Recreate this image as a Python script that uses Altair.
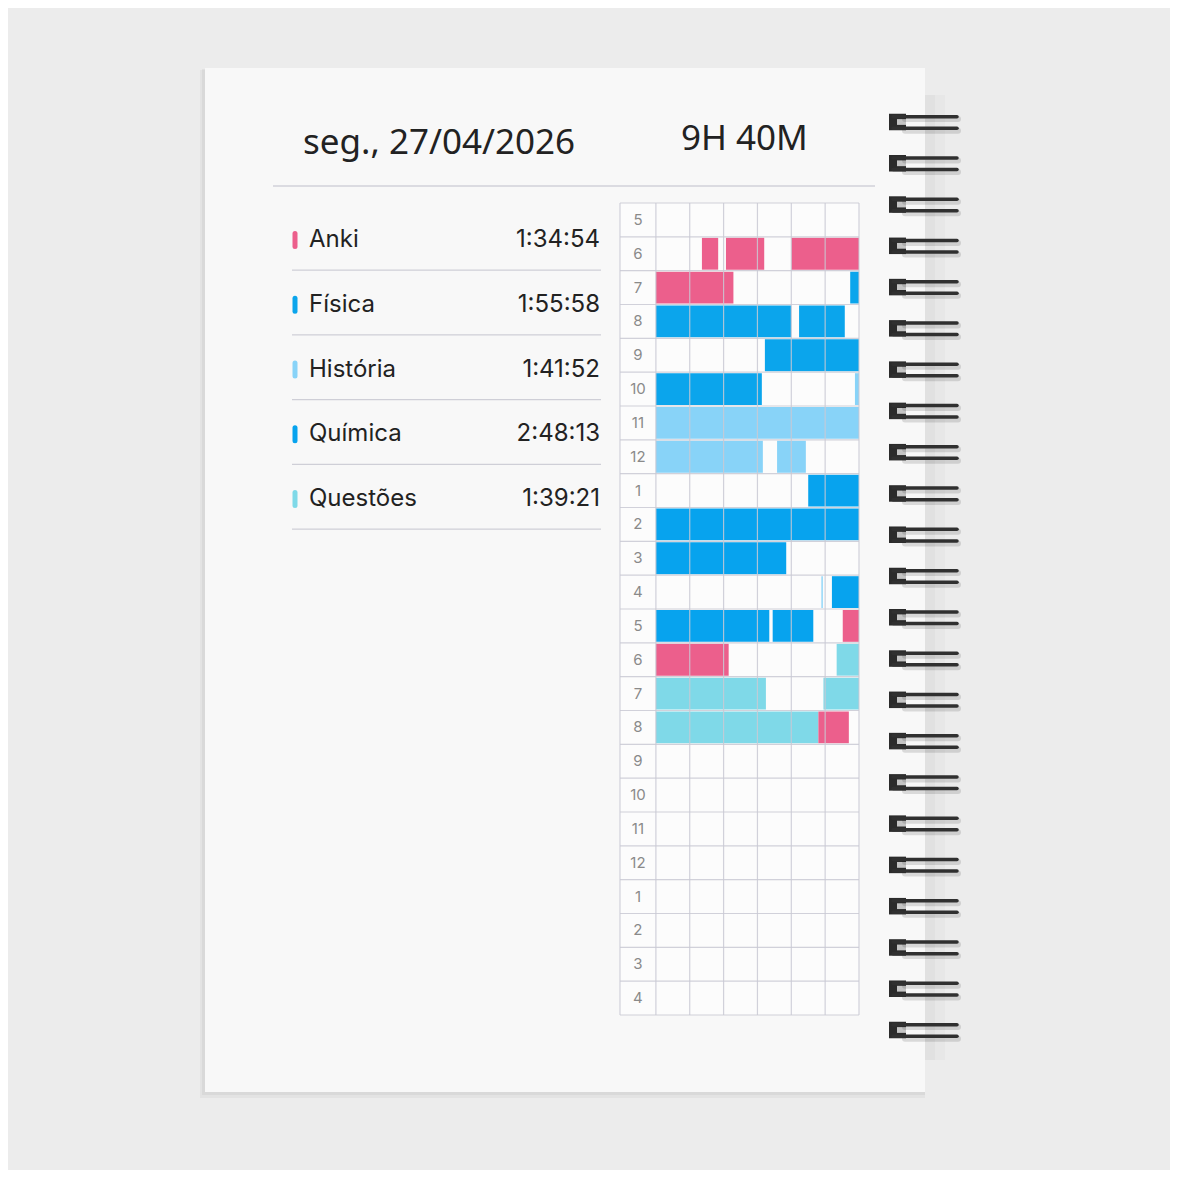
import altair as alt
import pandas as pd

# ---------------- data ----------------
DATE_LABEL = "seg., 27/04/2026"
TOTAL_LABEL = "9H 40M"

subjects = ["Anki", "Física", "História", "Química", "Questões"]
subject_colors = ["#EC5F8C", "#0BA5EC", "#88D3F8", "#07A3EE", "#7FD9E8"]
durations = ["1:34:54", "1:55:58", "1:41:52", "2:48:13", "1:39:21"]

hour_labels = ["5", "6", "7", "8", "9", "10", "11", "12", "1", "2", "3", "4",
               "5", "6", "7", "8", "9", "10", "11", "12", "1", "2", "3", "4"]

# study sessions: subject, hour-row index (0 = 5h), start minute, end minute
seg_subject = ["Anki", "Anki", "Anki", "Anki",
               "Física", "Física", "Física", "Física", "Física",
               "História", "História", "História", "História", "História",
               "Química", "Química", "Química", "Química", "Química", "Química",
               "Anki", "Anki",
               "Questões", "Questões", "Questões", "Questões",
               "Anki"]
seg_row = [1, 1, 1, 2,
           2, 3, 3, 4, 5,
           5, 6, 7, 7, 11,
           8, 9, 10, 11, 12, 12,
           12, 13,
           13, 14, 14, 15,
           15]
seg_start = [13.6, 20.7, 40.0, 0.0,
             57.4, 0.0, 42.3, 32.2, 0.0,
             58.8, 0.0, 0.0, 35.8, 48.9,
             45.0, 0.0, 0.0, 52.0, 0.0, 34.5,
             55.2, 0.0,
             53.4, 0.0, 49.5, 0.0,
             48.0]
seg_end = [18.4, 32.0, 60.0, 22.9,
           60.0, 40.0, 55.8, 60.0, 31.3,
           60.0, 60.0, 31.6, 44.3, 49.3,
           60.0, 60.0, 38.5, 60.0, 33.5, 46.5,
           60.0, 21.5,
           60.0, 32.5, 60.0, 48.0,
           57.0]

# ---------------- helpers ----------------
W = H = 1163


def px(v):
    return v - 8


one = pd.DataFrame({"k": [0]})
COLOR = alt.Scale(domain=subjects, range=subject_colors)
LABEL_MIN = -10.6
X_GRID = alt.Scale(domain=[LABEL_MIN, 60], range=[px(620), px(859)])
Y_GRID = alt.Scale(domain=[0, 24], range=[px(203), px(1015)])
LEG_Y = alt.Scale(domain=[0, 4], range=[px(240), px(499)])
RING_Y = alt.Scale(domain=[0, 22], range=[px(122), px(1030)])


def vrect(x0, x1, y0, y1, color, opacity=1.0):
    return alt.Chart(one).mark_rect(color=color, opacity=opacity).encode(
        x=alt.value(px(x0)), x2=alt.value(px(x1)),
        y=alt.value(px(y0)), y2=alt.value(px(y1)))


layers = []

# background paper and notebook page
layers.append(alt.Chart(one).mark_rect(color="#ECECEC").encode(
    x=alt.value(0), x2=alt.value(1162), y=alt.value(0), y2=alt.value(1162)))
layers.append(vrect(925, 945, 95, 1060, "#000000", 0.02))
layers.append(vrect(925, 935, 95, 1060, "#000000", 0.025))
layers.append(vrect(200, 925, 70, 1098, "#000000", 0.035))
layers.append(vrect(202, 925, 69, 1095, "#000000", 0.045))
layers.append(vrect(205, 925, 68, 1092, "#F8F8F8"))

# header
hdr = pd.DataFrame({"date": [DATE_LABEL], "total": [TOTAL_LABEL]})
layers.append(alt.Chart(hdr).mark_text(
    align="left", baseline="middle", fontSize=35, font="Noto Sans", color="#222222"
).encode(x=alt.value(px(303)), y=alt.value(px(143)), text="date:N"))
layers.append(alt.Chart(hdr).mark_text(
    align="left", baseline="middle", fontSize=35, font="Noto Sans", color="#222222"
).encode(x=alt.value(px(681)), y=alt.value(px(139)), text="total:N"))
layers.append(alt.Chart(one).mark_rule(color="#D2D2DA", strokeWidth=1.5).encode(
    x=alt.value(px(273)), x2=alt.value(px(875)), y=alt.value(px(186))))

# legend list
leg = pd.DataFrame({"subject": subjects, "duration": durations,
                    "idx": list(range(len(subjects)))})
legbase = alt.Chart(leg)
layers.append(legbase.mark_rule(strokeWidth=5, strokeCap="round").transform_calculate(
    top="datum.idx - 0.1", bot="datum.idx + 0.1"
).encode(
    x=alt.value(px(295)),
    y=alt.Y("top:Q", scale=LEG_Y, axis=None), y2="bot:Q",
    color=alt.Color("subject:N", scale=COLOR, legend=None)))
layers.append(legbase.mark_text(
    align="left", baseline="middle", fontSize=24, font="Inter", color="#222222"
).encode(x=alt.value(px(309)), y=alt.Y("idx:Q", scale=LEG_Y, axis=None),
         text="subject:N"))
layers.append(legbase.mark_text(
    align="right", baseline="middle", fontSize=24, font="Inter", color="#222222"
).encode(x=alt.value(px(600)), y=alt.Y("idx:Q", scale=LEG_Y, axis=None),
         text="duration:N"))
layers.append(legbase.mark_rule(color="#CFCFD7", strokeWidth=1.2).transform_calculate(
    sep="datum.idx + 0.465"
).encode(x=alt.value(px(292)), x2=alt.value(px(601)),
         y=alt.Y("sep:Q", scale=LEG_Y, axis=None)))

# grid background
gbg = pd.DataFrame({"x0": [LABEL_MIN], "x1": [60], "y0": [0], "y1": [24]})
layers.append(alt.Chart(gbg).mark_rect(color="#FCFCFC").encode(
    x=alt.X("x0:Q", scale=X_GRID, axis=None), x2="x1:Q",
    y=alt.Y("y0:Q", scale=Y_GRID, axis=None), y2="y1:Q"))

# session blocks
segs = pd.DataFrame({"subject": seg_subject, "row": seg_row,
                     "start": seg_start, "end": seg_end})
layers.append(alt.Chart(segs).mark_rect().transform_calculate(
    top="datum.row + 0.03", bot="datum.row + 0.97"
).encode(
    x=alt.X("start:Q", scale=X_GRID, axis=None), x2="end:Q",
    y=alt.Y("top:Q", scale=Y_GRID, axis=None), y2="bot:Q",
    color=alt.Color("subject:N", scale=COLOR, legend=None)))

# grid lines
vl = pd.DataFrame({"m": [LABEL_MIN] + [10 * i for i in range(7)]})
vl["y0"] = 0
vl["y1"] = 24
layers.append(alt.Chart(vl).mark_rule(color="#C9C9D3", strokeWidth=1.2, opacity=0.85).encode(
    x=alt.X("m:Q", scale=X_GRID, axis=None),
    y=alt.Y("y0:Q", scale=Y_GRID, axis=None), y2="y1:Q"))
hl = pd.DataFrame({"r": list(range(25))})
hl["x0"] = LABEL_MIN
hl["x1"] = 60
layers.append(alt.Chart(hl).mark_rule(color="#C9C9D3", strokeWidth=1.2, opacity=0.85).encode(
    y=alt.Y("r:Q", scale=Y_GRID, axis=None),
    x=alt.X("x0:Q", scale=X_GRID, axis=None), x2="x1:Q"))

# row (hour) labels
rl = pd.DataFrame({"label": hour_labels, "r": list(range(len(hour_labels)))})
layers.append(alt.Chart(rl).mark_text(
    align="center", baseline="middle", fontSize=15, font="Inter", color="#8A8A8A"
).transform_calculate(cy="datum.r + 0.5", cx=str(LABEL_MIN / 2)).encode(
    x=alt.X("cx:Q", scale=X_GRID, axis=None),
    y=alt.Y("cy:Q", scale=Y_GRID, axis=None), text="label:N"))

# spiral binding
rings = pd.DataFrame({"i": list(range(23))})
rbase = alt.Chart(rings)
layers.append(rbase.mark_rect(color="#2B2B2B").transform_calculate(
    a="datum.i - 0.2", b="datum.i + 0.2").encode(
    x=alt.value(px(889)), x2=alt.value(px(906)),
    y=alt.Y("a:Q", scale=RING_Y, axis=None), y2="b:Q"))
layers.append(rbase.mark_rect(color="#C4C4C4").transform_calculate(
    a="datum.i - 0.07", b="datum.i + 0.07").encode(
    x=alt.value(px(897)), x2=alt.value(px(906)),
    y=alt.Y("a:Q", scale=RING_Y, axis=None), y2="b:Q"))
for off in [-0.13, 0.15]:
    layers.append(rbase.mark_rule(color="#000000", opacity=0.12, strokeWidth=6,
                                  strokeCap="round").transform_calculate(
        a=f"datum.i + {off} + 0.06").encode(
        x=alt.value(px(905)), x2=alt.value(px(958)),
        y=alt.Y("a:Q", scale=RING_Y, axis=None)))
    layers.append(rbase.mark_rule(color="#303030", strokeWidth=3.5,
                                  strokeCap="round").transform_calculate(
        a=f"datum.i + {off}").encode(
        x=alt.value(px(893)), x2=alt.value(px(957)),
        y=alt.Y("a:Q", scale=RING_Y, axis=None)))

chart = alt.layer(*layers).resolve_scale(
    x="independent", y="independent", color="shared"
).properties(
    width=W, height=H, padding=0,
    autosize=alt.AutoSizeParams(type="none")
).configure_view(stroke=None)

chart.save("out.html", embed_options={"renderer": "svg", "actions": False})
